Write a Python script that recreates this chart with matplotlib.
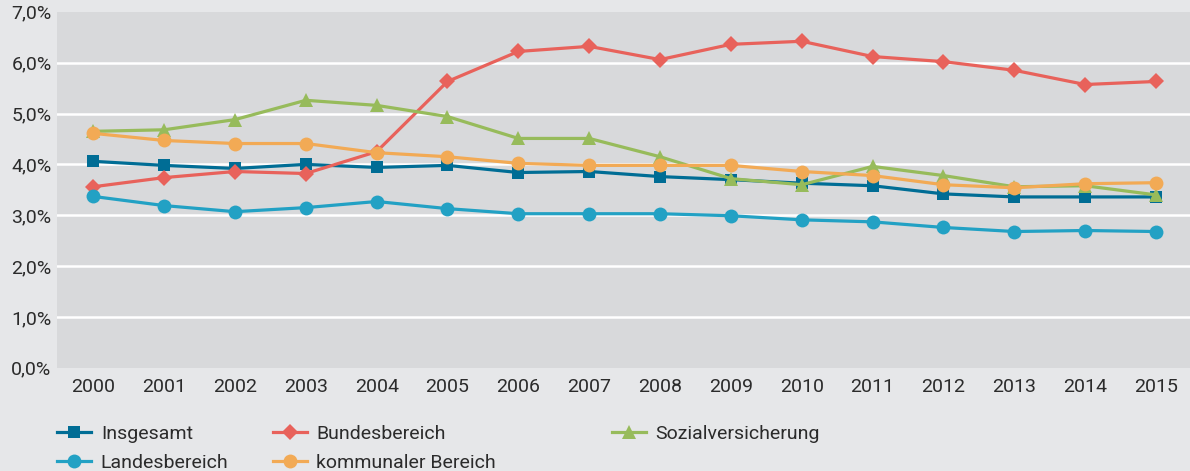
import matplotlib
matplotlib.use("Agg")
import matplotlib.pyplot as plt
from matplotlib.ticker import FuncFormatter

plt.rcParams['font.family'] = ['Roboto', 'DejaVu Sans']

years = list(range(2000, 2016))

insgesamt = [4.06, 3.98, 3.92, 4.00, 3.94, 3.98, 3.84, 3.86, 3.76, 3.70, 3.63, 3.58, 3.42, 3.36, 3.36, 3.36]
bundesbereich = [3.56, 3.74, 3.86, 3.82, 4.25, 5.63, 6.22, 6.32, 6.06, 6.36, 6.42, 6.12, 6.02, 5.85, 5.57, 5.63]
sozialversicherung = [4.65, 4.68, 4.88, 5.26, 5.16, 4.94, 4.51, 4.51, 4.15, 3.72, 3.60, 3.96, 3.78, 3.56, 3.58, 3.40]
landesbereich = [3.37, 3.19, 3.07, 3.15, 3.27, 3.13, 3.03, 3.03, 3.03, 2.99, 2.91, 2.87, 2.76, 2.68, 2.70, 2.68]
kommunal = [4.61, 4.47, 4.41, 4.41, 4.23, 4.15, 4.02, 3.98, 3.98, 3.98, 3.86, 3.78, 3.60, 3.54, 3.62, 3.64]

series = [
    ("Insgesamt", insgesamt, "#006d95", "s"),
    ("Bundesbereich", bundesbereich, "#e8625b", "D"),
    ("Sozialversicherung", sozialversicherung, "#97bb5b", "^"),
    ("Landesbereich", landesbereich, "#22a1c4", "o"),
    ("kommunaler Bereich", kommunal, "#f2aa55", "o"),
]
msizes = {"s": 9, "D": 8, "^": 9.5, "o": 10}

fig = plt.figure(figsize=(11.9, 4.71), dpi=100, facecolor="#e6e7e9")
ax = fig.add_axes([0.048, 0.219, 0.952, 0.756])
ax.set_facecolor("#d8d9db")

handles = {}
for name, vals, color, marker in series:
    line, = ax.plot(years, vals, color=color, lw=2.3, marker=marker,
                    markersize=msizes[marker], markeredgewidth=0, label=name)
    handles[name] = line

ax.set_xlim(1999.49, 2015.48)
ax.set_ylim(0, 7)
ax.set_xticks(years)
ax.set_yticks(range(0, 8))
ax.yaxis.set_major_formatter(FuncFormatter(lambda v, p: f"{v:.1f}%".replace(".", ",")))
for y in range(1, 7):
    ax.axhline(y, color="white", lw=1.8, zorder=0.5)
for s in ax.spines.values():
    s.set_visible(False)
ax.tick_params(length=0, labelsize=14, colors="#2b2b2b")
ax.tick_params(axis="y", pad=4)
ax.tick_params(axis="x", pad=7)

# legend: three columns placed at their own positions
cols = [(["Insgesamt", "Landesbereich"], 0.048),
        (["Bundesbereich", "kommunaler Bereich"], 0.229),
        (["Sozialversicherung"], 0.514)]
for names, xpos in cols:
    leg = fig.legend([handles[n] for n in names], names, loc="upper left",
                     bbox_to_anchor=(xpos, 0.098), frameon=False, fontsize=14,
                     handlelength=1.75, handletextpad=0.5, labelspacing=0.55,
                     borderpad=0, borderaxespad=0)
    for t in leg.get_texts():
        t.set_color("#2b2b2b")

fig.savefig("out.png", dpi=100, facecolor=fig.get_facecolor())
